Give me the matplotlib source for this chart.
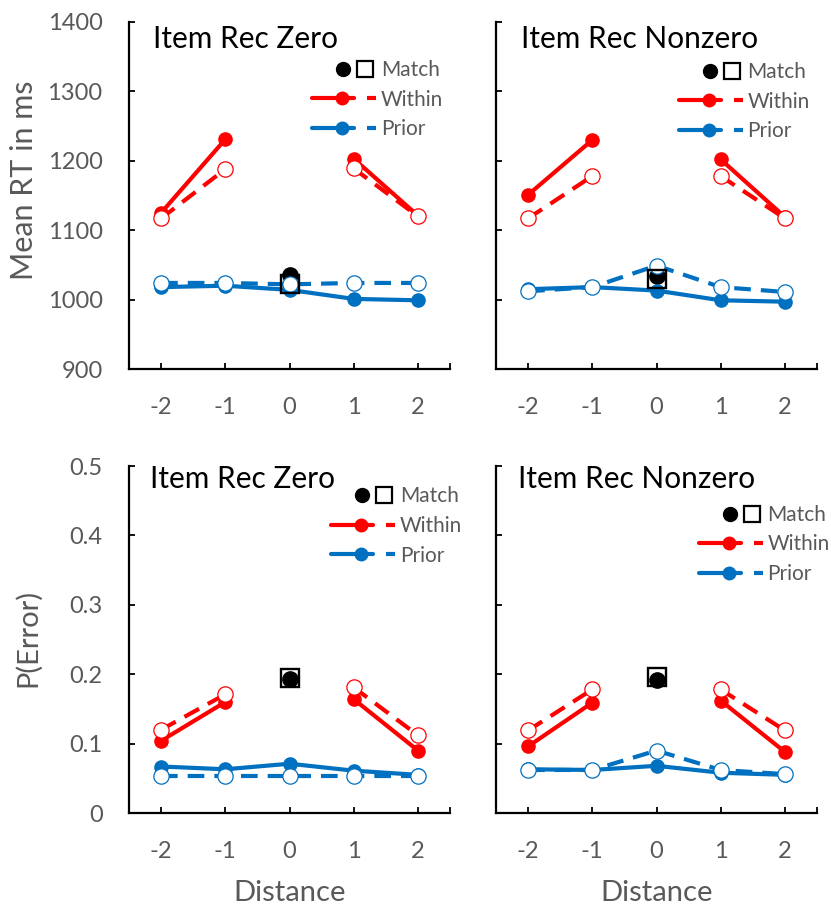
import numpy as np
import matplotlib
matplotlib.use('Agg')
import matplotlib.pyplot as plt

# ---------------- data ----------------
nan = np.nan
distance = [-2, -1, 0, 1, 2]
x_ticklabels = ['-2', '-1', '0', '1', '2']
rt_ticks = [900, 1000, 1100, 1200, 1300, 1400]
err_ticks = [0, 0.1, 0.2, 0.3, 0.4, 0.5]
err_ticklabels = ['0', '0.1', '0.2', '0.3', '0.4', '0.5']

panel_titles = ['Item Rec Zero', 'Item Rec Nonzero', 'Item Rec Zero', 'Item Rec Nonzero']
legend_labels = ['Match', 'Within', 'Prior']
ylabel_rt = 'Mean RT in ms'
ylabel_err = 'P(Error)'
xlabel = 'Distance'

# RT, Item Rec Zero
rt_zero_within_solid = [1125, 1231, nan, 1203, 1121]
rt_zero_within_dashed = [1117, 1188, nan, 1189, 1120]
rt_zero_prior_solid = [1018, 1020, 1014, 1001, 999]
rt_zero_prior_dashed = [1024, 1024, 1022, 1024, 1024]
rt_zero_match_circle = 1036
rt_zero_match_square = 1023

# RT, Item Rec Nonzero
rt_nz_within_solid = [1151, 1230, nan, 1202, 1119]
rt_nz_within_dashed = [1117, 1178, nan, 1178, 1117]
rt_nz_prior_solid = [1015, 1018, 1013, 999, 997]
rt_nz_prior_dashed = [1012, 1018, 1049, 1018, 1011]
rt_nz_match_circle = 1034
rt_nz_match_square = 1029

# P(Error), Item Rec Zero
err_zero_within_solid = [0.104, 0.160, nan, 0.164, 0.090]
err_zero_within_dashed = [0.120, 0.171, nan, 0.181, 0.112]
err_zero_prior_solid = [0.067, 0.063, 0.071, 0.061, 0.055]
err_zero_prior_dashed = [0.054, 0.054, 0.054, 0.054, 0.054]
err_zero_match_circle = 0.193
err_zero_match_square = 0.195

# P(Error), Item Rec Nonzero
err_nz_within_solid = [0.096, 0.159, nan, 0.162, 0.088]
err_nz_within_dashed = [0.119, 0.178, nan, 0.178, 0.119]
err_nz_prior_solid = [0.063, 0.062, 0.068, 0.058, 0.055]
err_nz_prior_dashed = [0.062, 0.062, 0.090, 0.062, 0.056]
err_nz_match_circle = 0.192
err_nz_match_square = 0.196

# ---------------- style ----------------
RED = '#FF0000'
BLUE = '#0070C0'
GRAY = '#595959'
FONT = ['Lato', 'DejaVu Sans']
plt.rcParams['font.family'] = FONT

W, H = 831, 909
fig = plt.figure(figsize=(W / 100, H / 100), dpi=100)


def ax_rect(l, r, t, b):
    return [l / W, 1 - b / H, (r - l) / W, (b - t) / H]


LW = 3.0
DASH = (0, (4, 2.4))


def draw_panel(ax, ws, wd, ps, pd, mc, msq, show_ylabels):
    ax.plot([0], [mc], 'o', color='black', ms=11, zorder=3, clip_on=False)
    ax.plot(distance, ws, '-', color=RED, lw=LW, marker='o', ms=9.5, zorder=4, clip_on=False)
    ax.plot(distance, wd, color=RED, lw=LW, ls=DASH, marker='o', ms=11,
            mfc='white', mec=RED, mew=0.9, zorder=5, clip_on=False)
    ax.plot(distance, ps, '-', color=BLUE, lw=LW, marker='o', ms=9.5, zorder=6, clip_on=False)
    ax.plot(distance, pd, color=BLUE, lw=LW, ls=DASH, marker='o', ms=11,
            mfc='white', mec=BLUE, mew=0.9, zorder=7, clip_on=False)
    ax.plot([0], [msq], 's', mfc='none', mec='black', ms=13, mew=1.7, zorder=8, clip_on=False)

    ax.set_xlim(-2.5, 2.5)
    ax.set_xticks(distance)
    ax.set_xticklabels(x_ticklabels)
    ax.set_xticks([-2.5, 2.5], minor=True)
    for s in ['top', 'right']:
        ax.spines[s].set_visible(False)
    for s in ['left', 'bottom']:
        ax.spines[s].set_linewidth(1.6)
        ax.spines[s].set_color('black')
    ax.tick_params(axis='x', which='both', direction='in', length=4, width=1.3,
                   pad=20, labelsize=17, labelcolor=GRAY)
    ax.tick_params(axis='y', which='both', direction='in', length=4, width=1.3,
                   pad=19, labelsize=17, labelcolor=GRAY, labelleft=show_ylabels)
    ax.patch.set_alpha(0)


# panels
L1, R1 = 129, 450
L2, R2 = 496, 817
T1, B1 = 22, 369
T2, B2 = 466, 813

ax1 = fig.add_axes(ax_rect(L1, R1, T1, B1))
ax2 = fig.add_axes(ax_rect(L2, R2, T1, B1))
ax3 = fig.add_axes(ax_rect(L1, R1, T2, B2))
ax4 = fig.add_axes(ax_rect(L2, R2, T2, B2))

for ax in (ax1, ax2):
    ax.set_ylim(900, 1400)
    ax.set_yticks(rt_ticks)
    ax.set_yticklabels([str(t) for t in rt_ticks])
for ax in (ax3, ax4):
    ax.set_ylim(0, 0.5)
    ax.set_yticks(err_ticks)
    ax.set_yticklabels(err_ticklabels)

draw_panel(ax1, rt_zero_within_solid, rt_zero_within_dashed, rt_zero_prior_solid,
           rt_zero_prior_dashed, rt_zero_match_circle, rt_zero_match_square, True)
draw_panel(ax2, rt_nz_within_solid, rt_nz_within_dashed, rt_nz_prior_solid,
           rt_nz_prior_dashed, rt_nz_match_circle, rt_nz_match_square, False)
draw_panel(ax3, err_zero_within_solid, err_zero_within_dashed, err_zero_prior_solid,
           err_zero_prior_dashed, err_zero_match_circle, err_zero_match_square, True)
draw_panel(ax4, err_nz_within_solid, err_nz_within_dashed, err_nz_prior_solid,
           err_nz_prior_dashed, err_nz_match_circle, err_nz_match_square, False)

# ---------------- overlay for titles / legends / axis titles ----------------
ov = fig.add_axes([0, 0, 1, 1], zorder=10)
ov.set_xlim(0, W)
ov.set_ylim(H, 0)
ov.axis('off')
ov.patch.set_alpha(0)

title_pos = [(153, 48.5), (521, 48.5), (150, 488.5), (518, 488.5)]
for (tx, ty), t in zip(title_pos, panel_titles):
    ov.text(tx, ty, t, fontsize=21.5, color='black', ha='left', va='baseline')


def legend(cx, cy):
    ov.plot([cx], [cy], 'o', color='black', ms=10)
    ov.plot([cx + 22], [cy], 's', mfc='none', mec='black', ms=11.5, mew=1.6)
    ov.text(cx + 38, cy + 7.5, legend_labels[0], fontsize=15, color=GRAY,
            ha='left', va='baseline')
    for row, col in ((1, RED), (2, BLUE)):
        y = cy + 29.5 * row
        ov.plot([cx - 31, cx + 11], [y, y], color=col, lw=LW, solid_capstyle='round')
        ov.plot([cx - 1], [y], 'o', color=col, ms=9)
        ov.plot([cx + 24, cx + 33], [y, y], color=col, lw=LW, solid_capstyle='butt')
        ov.text(cx + 38, y + 7.5, legend_labels[row], fontsize=15, color=GRAY,
                ha='left', va='baseline')


for cx, cy in [(343, 68.5), (709.5, 70.5), (362, 495), (729.5, 513.5)]:
    legend(cx, cy)

# axis titles
ov.text(33, 180, ylabel_rt, fontsize=22, color=GRAY, rotation=90,
        rotation_mode='anchor', ha='center', va='baseline')
ov.text(36, 638, ylabel_err, fontsize=21, color=GRAY, rotation=90,
        rotation_mode='anchor', ha='center', va='baseline')
ov.text((L1 + R1) / 2, 901, xlabel, fontsize=21, color=GRAY, ha='center', va='baseline')
ov.text((L2 + R2) / 2, 901, xlabel, fontsize=21, color=GRAY, ha='center', va='baseline')

fig.savefig('out.png', dpi=100)
